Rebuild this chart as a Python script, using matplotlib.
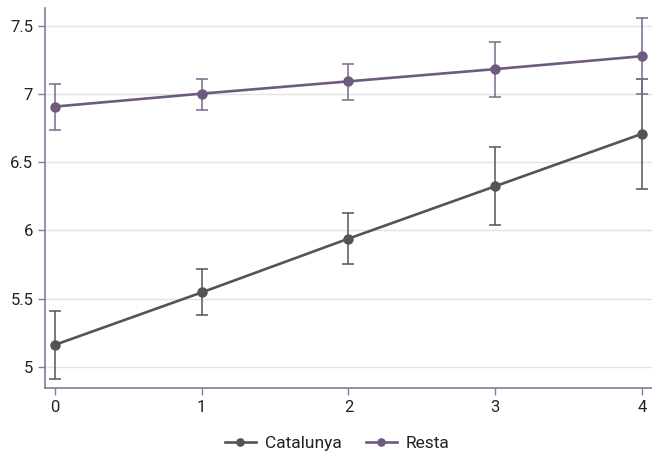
import matplotlib
matplotlib.use("Agg")
import matplotlib.pyplot as plt
from matplotlib.ticker import FuncFormatter

x = [0, 1, 2, 3, 4]
cat_mean = [5.16, 5.545, 5.94, 6.325, 6.71]
cat_lo = [4.91, 5.38, 5.755, 6.04, 6.305]
cat_hi = [5.41, 5.72, 6.13, 6.615, 7.11]
res_mean = [6.91, 7.005, 7.095, 7.185, 7.28]
res_lo = [6.735, 6.885, 6.96, 6.98, 7.0]
res_hi = [7.075, 7.115, 7.22, 7.385, 7.56]
yticks = [5, 5.5, 6, 6.5, 7, 7.5]

plt.rcParams['font.family'] = ['Roboto', 'DejaVu Sans']

fig = plt.figure(figsize=(6.52, 4.51), dpi=100)
ax = fig.add_axes([0.069, 0.1397, 0.931, 0.8426])

spine_c = '#8a7896'
c_cat = '#545454'
c_res = '#6e5a7e'

for mean, lo, hi, col, ecol, lab in [
    (cat_mean, cat_lo, cat_hi, c_cat, '#555555', 'Catalunya'),
    (res_mean, res_lo, res_hi, c_res, '#7a6889', 'Resta')]:
    yerr = [[m - l for m, l in zip(mean, lo)], [h - m for m, h in zip(mean, hi)]]
    ax.errorbar(x, mean, yerr=yerr, fmt='none', ecolor=ecol, elinewidth=1.1,
                capsize=4, capthick=1.1, zorder=2)
    ax.plot(x, mean, color=col, lw=1.9, marker='o', ms=6.5, label=lab, zorder=3)

ax.set_xlim(-0.068, 4.068)
ax.set_ylim(4.843, 7.634)
ax.set_xticks(x)
ax.set_yticks(yticks)
ax.yaxis.set_major_formatter(FuncFormatter(lambda v, p: f'{v:g}'))
ax.grid(axis='y', color='#e3e3e3', lw=1)
ax.set_axisbelow(True)
for s in ['top', 'right']:
    ax.spines[s].set_visible(False)
for s in ['left', 'bottom']:
    ax.spines[s].set_color(spine_c)
    ax.spines[s].set_linewidth(1.2)
ax.tick_params(axis='both', colors=spine_c, labelcolor='#222222', labelsize=12,
               length=5, width=1)

ax.legend(loc='upper center', bbox_to_anchor=(0.481, -0.085), ncol=2, frameon=False,
          fontsize=12.5, handlelength=1.8, columnspacing=1.4, handletextpad=0.5,
          markerscale=0.8, labelcolor='#222222')

fig.savefig('out.png', dpi=100)
